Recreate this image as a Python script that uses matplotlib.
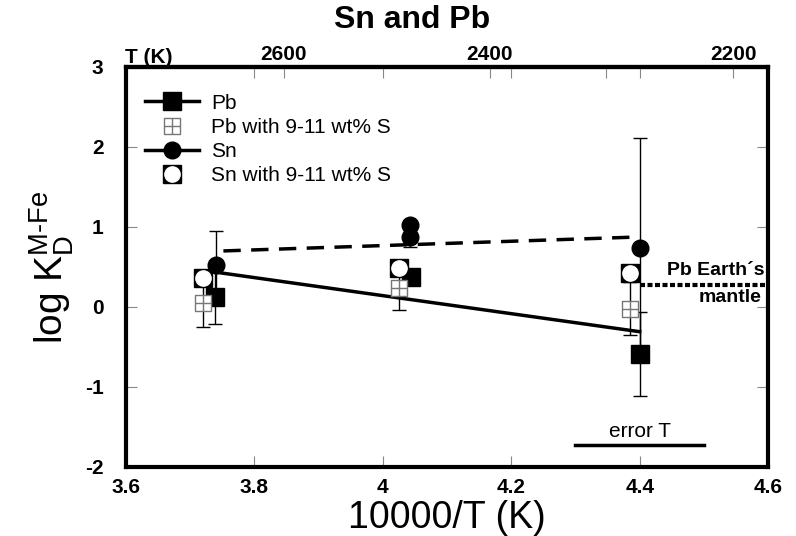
import numpy as np
import matplotlib.pyplot as plt
from matplotlib.path import Path
from matplotlib.lines import Line2D
from matplotlib.legend_handler import HandlerTuple

plt.rcParams['font.family'] = ['Liberation Sans', 'DejaVu Sans']
plt.rcParams['axes.unicode_minus'] = False

# Pb, no sulfur
pb_x = [3.739, 4.044, 4.400]
pb_y = [0.12, 0.38, -0.59]
pb_err = [0.33, 0.0, 0.53]

# Pb with 9-11 wt% S
pbs_x = [3.720, 4.025, 4.385]
pbs_y = [0.05, 0.24, -0.02]
pbs_err = [0.30, 0.28, 0.33]

# Sn, no sulfur
sn_x = [3.741, 4.042, 4.042, 4.400]
sn_y = [0.52, 1.02, 0.87, 0.74]
sn_err = [0.43, 0.0, 0.12, 1.37]

# Sn with 9-11 wt% S
sns_x = [3.720, 4.025, 4.385]
sns_y = [0.36, 0.49, 0.43]

# fit lines
pb_fit_x = [3.735, 4.400]
pb_fit_y = [0.44, -0.31]
sn_fit_x = [3.752, 4.400]
sn_fit_y = [0.70, 0.875]

mantle_pb = 0.275
temps = [2600, 2500, 2400, 2300, 2200]
temp_labels = ['2600', '', '2400', '', '2200']

# grid square marker
grid = Path([(-1, -1), (1, -1), (1, 1), (-1, 1), (-1, -1),
             (0, -1), (0, 1), (-1, 0), (1, 0)],
            [Path.MOVETO, Path.LINETO, Path.LINETO, Path.LINETO, Path.CLOSEPOLY,
             Path.MOVETO, Path.LINETO, Path.MOVETO, Path.LINETO])

fig = plt.figure(figsize=(7.96, 5.36), dpi=100)
ax = fig.add_axes([0.158, 0.129, 0.807, 0.746])

# lines
ax.plot(pb_fit_x, pb_fit_y, color='black', lw=2.5, zorder=2)
ax.plot(sn_fit_x, sn_fit_y, color='black', lw=2.5, ls=(0, (5, 3)), zorder=2)

# error bars
ax.errorbar(pbs_x, pbs_y, yerr=pbs_err, fmt='none', ecolor='black', elinewidth=1, capsize=5, zorder=3)
ax.errorbar(sn_x, sn_y, yerr=sn_err, fmt='none', ecolor='black', elinewidth=1, capsize=5, zorder=3)
ax.errorbar(pb_x, pb_y, yerr=pb_err, fmt='none', ecolor='black', elinewidth=1, capsize=5, zorder=3)

# markers
ax.plot(pb_x, pb_y, 's', color='black', ms=13, ls='none', zorder=4)
ax.plot(pbs_x, pbs_y, marker=grid, ms=12, mfc='white', mec='#777777', mew=1, ls='none', zorder=5)
ax.plot(sn_x, sn_y, 'o', color='black', ms=12, ls='none', zorder=6)
ax.plot(sns_x, sns_y, 's', color='black', ms=13, ls='none', zorder=7)
ax.plot(sns_x, sns_y, 'o', mfc='white', mec='white', ms=11, ls='none', zorder=8)

# Pb Earth's mantle
ax.plot([4.40, 4.6], [mantle_pb, mantle_pb], color='black', lw=3, ls=(0, (1.2, 0.6)), zorder=2)
ax.text(4.595, mantle_pb + 0.08, 'Pb Earth´s', ha='right', va='bottom', fontsize=14, fontweight='bold')
ax.text(4.59, mantle_pb - 0.05, 'mantle', ha='right', va='top', fontsize=14, fontweight='bold')

# error T
ax.plot([4.3, 4.5], [-1.73, -1.73], color='black', lw=2.5)
ax.text(4.4, -1.68, 'error T', ha='center', va='bottom', fontsize=15)

ax.set_xlim(3.6, 4.6)
ax.set_ylim(-2, 3)
ax.set_xticks([3.6, 3.8, 4.0, 4.2, 4.4, 4.6])
ax.set_xticklabels(['3.6', '3.8', '4', '4.2', '4.4', '4.6'])
ax.set_yticks([-2, -1, 0, 1, 2, 3])
ax.tick_params(direction='in', length=8, width=0.8, color='#888888', top=False, right=True,
               labelsize=15)
ax.tick_params(axis='y', pad=16)
ax.tick_params(axis='x', pad=8)
for lab in ax.get_xticklabels() + ax.get_yticklabels():
    lab.set_fontweight('bold')
for s in ax.spines.values():
    s.set_linewidth(3)

ax.set_xlabel('10000/T (K)', fontsize=27, labelpad=2)
ax.set_ylabel('log K$_\\mathregular{D}^\\mathregular{M\u2010Fe}$', fontsize=28, labelpad=6)

# top temperature axis
top = ax.twiny()
top.set_xlim(ax.get_xlim())
top.set_xticks([10000 / t for t in temps])
top.set_xticklabels(temp_labels, fontsize=15, fontweight='bold')
top.set_xticks([3.8, 4.0, 4.2, 4.4], minor=True)
top.tick_params(which='both', direction='in', length=8, width=0.8, color='#888888', pad=2)
top.spines['top'].set_linewidth(3)
fig.text(0.157, 0.883, 'T (K)', fontsize=15, fontweight='bold')
fig.suptitle('Sn and Pb', x=0.518, y=0.99, fontsize=23, fontweight='bold')

# legend
h_pb = Line2D([], [], color='black', lw=2.5, marker='s', ms=13)
h_pbs = Line2D([], [], ls='none', marker=grid, ms=12, mfc='white', mec='#777777', mew=1)
h_sn = Line2D([], [], color='black', lw=2.5, marker='o', ms=12)
h_sq = Line2D([], [], ls='none', marker='s', color='black', ms=13)
h_ci = Line2D([], [], ls='none', marker='o', mfc='white', mec='white', ms=11)
ax.legend([h_pb, h_pbs, h_sn, (h_sq, h_ci)],
          ['Pb', 'Pb with 9-11 wt% S', 'Sn', 'Sn with 9-11 wt% S'],
          handler_map={tuple: HandlerTuple(ndivide=1, pad=0)},
          loc='upper left', bbox_to_anchor=(0.0, 0.98), frameon=False,
          fontsize=15, handlelength=2.6, labelspacing=0.25, handletextpad=0.6)

fig.savefig('out.png', dpi=100)
